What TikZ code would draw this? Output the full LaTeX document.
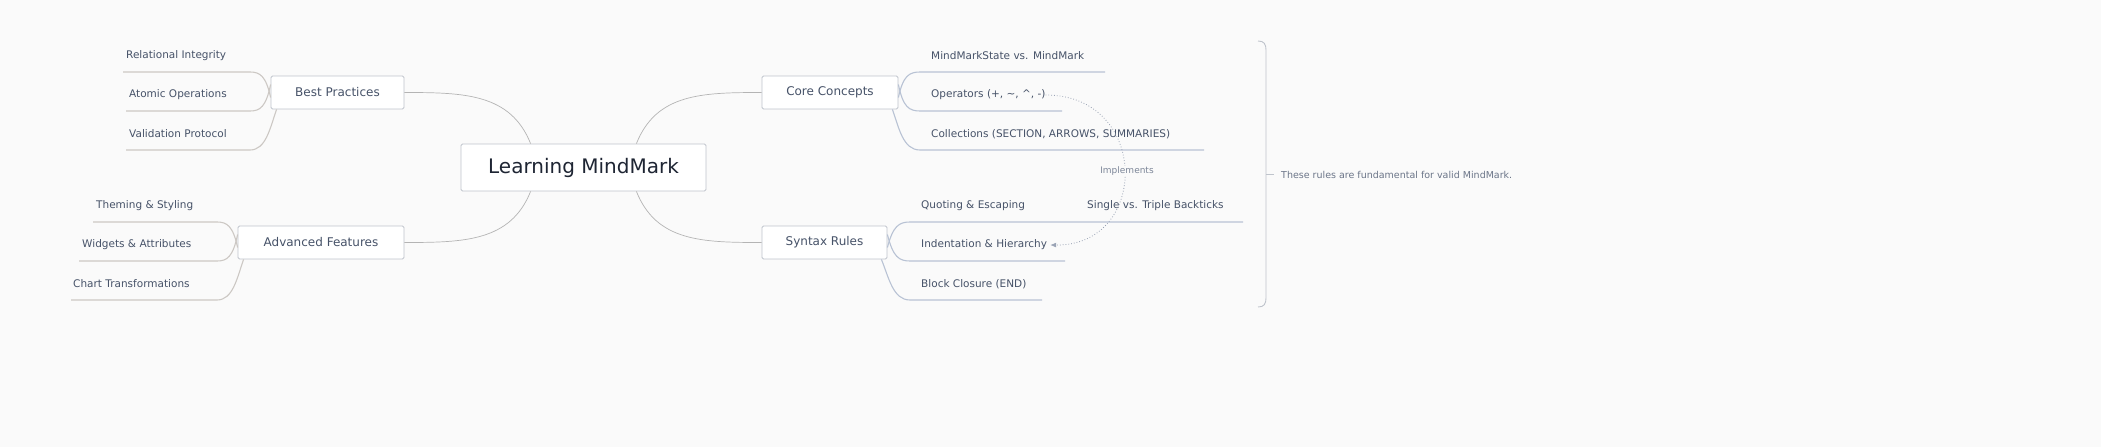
\documentclass[tikz,border=0pt]{standalone}
\usepackage{fontspec}
\setmainfont{DejaVu Sans}
\usetikzlibrary{arrows.meta}
\definecolor{bg}{HTML}{FAFAFA}
\definecolor{txt}{HTML}{465268}
\definecolor{rootc}{HTML}{1E2533}
\definecolor{boxb}{HTML}{BFC4CC}
\definecolor{lnl}{HTML}{CCC8C4}
\definecolor{lnr}{HTML}{B8C2D4}
\definecolor{conn}{HTML}{B4B4B4}
\definecolor{arr}{HTML}{9AA3B5}
\definecolor{impc}{HTML}{7C8698}
\definecolor{notec}{HTML}{6B7588}
\begin{document}
\begin{tikzpicture}[x=1pt,y=-1pt,
 box/.style={draw=boxb,fill=white,rounded corners=1.5pt,line width=0.8pt,text=txt,font=\fontsize{12}{14}\selectfont,inner sep=0pt},
 leaf/.style={text=txt,font=\fontsize{10.5}{12}\selectfont,anchor=west,inner sep=0pt},
 lineL/.style={draw=lnl,line width=1.1pt},
 lineR/.style={draw=lnr,line width=1.1pt},
 cn/.style={draw=conn,line width=0.7pt}]
\useasboundingbox (0,0) rectangle (2101,447);
\clip (0,0) rectangle (2101,447);
\fill[bg] (0,0) rectangle (2101,447);
\node[box,minimum width=245pt,minimum height=47pt,font=\fontsize{20}{24}\selectfont,text=rootc] (root) at (583.5,167.5) {Learning MindMark};
\node[box,minimum width=133pt,minimum height=33pt] (bp) at (337.5,92.5) {Best Practices};
\node[box,minimum width=136pt,minimum height=33pt] (cc) at (830,92.5) {Core Concepts};
\node[box,minimum width=166pt,minimum height=33pt] (af) at (321,242.5) {Advanced Features};
\node[box,minimum width=125pt,minimum height=33pt] (sr) at (824.5,242.5) {Syntax Rules};
% root connectors
\draw[cn] ([xshift=70]root.north west) .. controls +(-20,-50) and +(60,0) .. (bp.east);
\draw[cn] ([xshift=-70]root.north east) .. controls +(20,-50) and +(-60,0) .. (cc.west);
\draw[cn] ([xshift=70]root.south west) .. controls +(-20,50) and +(60,0) .. (af.east);
\draw[cn] ([xshift=-70]root.south east) .. controls +(20,50) and +(-60,0) .. (sr.west);
% leaves
\node[leaf] (l1) at (126,56) {Relational Integrity};
\node[leaf] (l2) at (129,95) {Atomic Operations};
\node[leaf] (l3) at (129,134) {Validation Protocol};
\coordinate (e1) at (123,72); \coordinate (e2) at (126,111); \coordinate (e3) at (126,150);
\draw[lineL] (e1) -- (250,72) .. controls (260,72) and (266,76) .. ([yshift=-5]bp.west);
\draw[lineL] (e2) -- (250,111) .. controls (260,111) and (266,107) .. ([yshift=8]bp.west);
\draw[lineL] (e3) -- (250,150) .. controls (266,150) and (270,128) .. ([xshift=6]bp.south west);
\node[leaf] (a1) at (96,206) {Theming \& Styling};
\node[leaf] (a2) at (82,245) {Widgets \& Attributes};
\node[leaf] (a3) at (73,284) {Chart Transformations};
\coordinate (f1) at (93,222); \coordinate (f2) at (79,261); \coordinate (f3) at (71,300);
\draw[lineL] (f1) -- (217,222) .. controls (227,222) and (233,226) .. ([yshift=-5]af.west);
\draw[lineL] (f2) -- (217,261) .. controls (227,261) and (233,257) .. ([yshift=8]af.west);
\draw[lineL] (f3) -- (217,300) .. controls (233,300) and (237,278) .. ([xshift=6]af.south west);
\node[leaf] (c1) at (931,56) {MindMarkState vs. MindMark};
\node[leaf] (c2) at (931,95) {Operators (+, \textasciitilde, \textasciicircum, -)};
\node[leaf] (c3) at (931,134) {Collections (SECTION, ARROWS, SUMMARIES)};
\coordinate (g1) at (1105,72); \coordinate (g2) at (1062,111); \coordinate (g3) at (1204,150);
\draw[lineR] (g1) -- (920,72) .. controls (909,72) and (903,76) .. ([yshift=-5]cc.east);
\draw[lineR] (g2) -- (920,111) .. controls (909,111) and (903,107) .. ([yshift=8]cc.east);
\draw[lineR] (g3) -- (920,150) .. controls (903,150) and (899,128) .. ([xshift=-6]cc.south east);
\node[leaf] (s1) at (921,206) {Quoting \& Escaping};
\node[leaf] (s1b) at (1087,206) {Single vs. Triple Backticks};
\node[leaf] (s2) at (921,245) {Indentation \& Hierarchy};
\node[leaf] (s3) at (921,284) {Block Closure (END)};
\coordinate (h1) at (1243,222); \coordinate (h2) at (1065,261); \coordinate (h3) at (1042,300);
\draw[lineR] (h1) -- (910,222) .. controls (899,222) and (893,226) .. ([yshift=-5]sr.east);
\draw[lineR] (h2) -- (910,261) .. controls (899,261) and (893,257) .. ([yshift=8]sr.east);
\draw[lineR] (h3) -- (910,300) .. controls (893,300) and (889,278) .. ([xshift=-6]sr.south east);
% implements arrow
\draw[draw=arr,line width=0.8pt,dotted,-{Latex[length=6pt,width=5pt]}]
  (c2.east) .. controls (1150,95) and (1150,246) .. ([xshift=3]s2.east);
\node[text=impc,font=\fontsize{9}{11}\selectfont,fill=bg,inner sep=1pt] (imp) at (1127,171) {Implements};
% bracket
\coordinate (bt) at (1258,41); \coordinate (bb) at (1258,307);
\draw[draw=boxb,line width=0.9pt] (bt) .. controls (1264,41) and (1266,44) .. (1266,50) -- (1266,298) .. controls (1266,304) and (1264,307) .. (bb);
\draw[draw=boxb,line width=0.9pt] (1266,174) -- (1274,174);
\node[leaf,text=notec,font=\fontsize{9.5}{11}\selectfont] (note) at (1281,175) {These rules are fundamental for valid MindMark.};
\end{tikzpicture}
\end{document}
